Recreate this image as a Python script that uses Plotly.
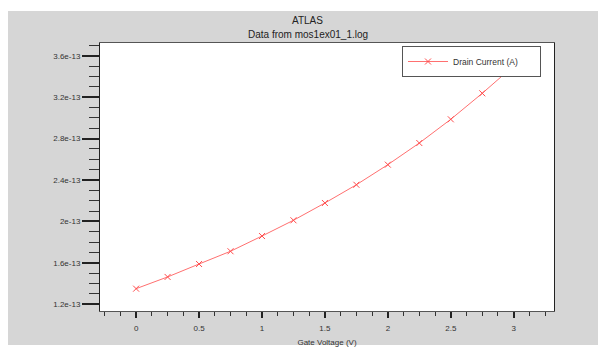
import plotly.graph_objects as go

gate_voltage = [0.0, 0.25, 0.5, 0.75, 1.0, 1.25, 1.5, 1.75, 2.0, 2.25, 2.5, 2.75, 3.0]
drain_current = [1.351e-13, 1.464e-13, 1.589e-13, 1.712e-13, 1.859e-13, 2.011e-13,
                 2.178e-13, 2.354e-13, 2.548e-13, 2.757e-13, 2.986e-13, 3.237e-13, 3.502e-13]
y_tick_vals = [1.2e-13, 1.6e-13, 2.0e-13, 2.4e-13, 2.8e-13, 3.2e-13, 3.6e-13]
y_tick_text = ["1.2e-13", "1.6e-13", "2e-13", "2.4e-13", "2.8e-13", "3.2e-13", "3.6e-13"]
x_tick_vals = [0, 0.5, 1, 1.5, 2, 2.5, 3]
x_tick_text = ["0", "0.5", "1", "1.5", "2", "2.5", "3"]

FONT = "Liberation Sans, Arial, sans-serif"
GRAY = "#d6d6d6"

fig = go.Figure()
fig.add_trace(go.Scatter(
    x=gate_voltage, y=drain_current, mode="lines+markers",
    name="Drain Current (A)",
    line=dict(color="#ff7070", width=1),
    marker=dict(symbol="x-thin", size=6, color="#ff4d4d",
                line=dict(color="#ff4d4d", width=1)),
))

# page body has an 8px margin, so the figure is placed at (8, 8)
OFF = 8
W, H = 606 - OFF, 347 - OFF
L, R, T, B = 100 - OFF, 52, 43 - OFF, 36
pw, ph = W - L - R, H - T - B

def px(x):
    return (x - OFF - L) / pw

def py(y):
    return (H - B - (y - OFF)) / ph

shapes = [
    dict(type="rect", xref="paper", yref="paper", x0=-0.4, x1=1.4, y0=py(11), y1=1.4,
         fillcolor="white", line=dict(width=0), layer="below"),
    dict(type="rect", xref="paper", yref="paper", x0=-0.4, x1=1.4, y0=-0.3, y1=py(345),
         fillcolor="white", line=dict(width=0), layer="below"),
]

annotations = [
    dict(text="ATLAS", xref="paper", yref="paper", x=px(307), y=py(20),
         xanchor="center", yanchor="middle", showarrow=False,
         font=dict(family=FONT, size=10, color="#222")),
    dict(text="Data from mos1ex01_1.log", xref="paper", yref="paper", x=px(308), y=py(34),
         xanchor="center", yanchor="middle", showarrow=False,
         font=dict(family=FONT, size=10, color="#222")),
]

fig.update_layout(
    width=W, height=H,
    margin=dict(l=L, r=R, t=T, b=B, autoexpand=False),
    paper_bgcolor=GRAY, plot_bgcolor="white",
    font=dict(family=FONT, size=8, color="#333"),
    shapes=shapes, annotations=annotations,
    showlegend=True,
    legend=dict(x=px(402), y=py(46), xanchor="left", yanchor="top",
                orientation="h",
                bgcolor="white", bordercolor="#555", borderwidth=1,
                font=dict(family=FONT, size=8.5, color="#333"), itemwidth=40,
                entrywidth=82, entrywidthmode="pixels"),
)
fig.update_xaxes(
    range=[-0.287, 3.32], tickvals=x_tick_vals, ticktext=x_tick_text,
    ticks="outside", ticklen=6, tickwidth=2, tickcolor="#222",
    minor=dict(dtick=0.125, tick0=0, ticks="outside", ticklen=4, tickwidth=1, tickcolor="#333"),
    showline=True, linecolor="#555", linewidth=1, mirror=True,
    showgrid=False, zeroline=False,
    ticklabelstandoff=3,
    title=dict(text="Gate Voltage (V)", font=dict(family=FONT, size=8, color="#333"), standoff=9),
    tickfont=dict(family=FONT, size=8, color="#333"),
)
fig.update_yaxes(
    range=[1.1353e-13, 3.7226e-13], tickvals=y_tick_vals, ticktext=y_tick_text,
    ticks="outside", ticklen=17, tickwidth=2, tickcolor="#222",
    minor=dict(dtick=1e-14, tick0=0, ticks="outside", ticklen=10, tickwidth=1, tickcolor="#333"),
    showline=True, linecolor="#222", linewidth=1, mirror=True,
    showgrid=False, zeroline=False,
    tickfont=dict(family=FONT, size=8, color="#333"),
)

fig.write_html("out.html")
